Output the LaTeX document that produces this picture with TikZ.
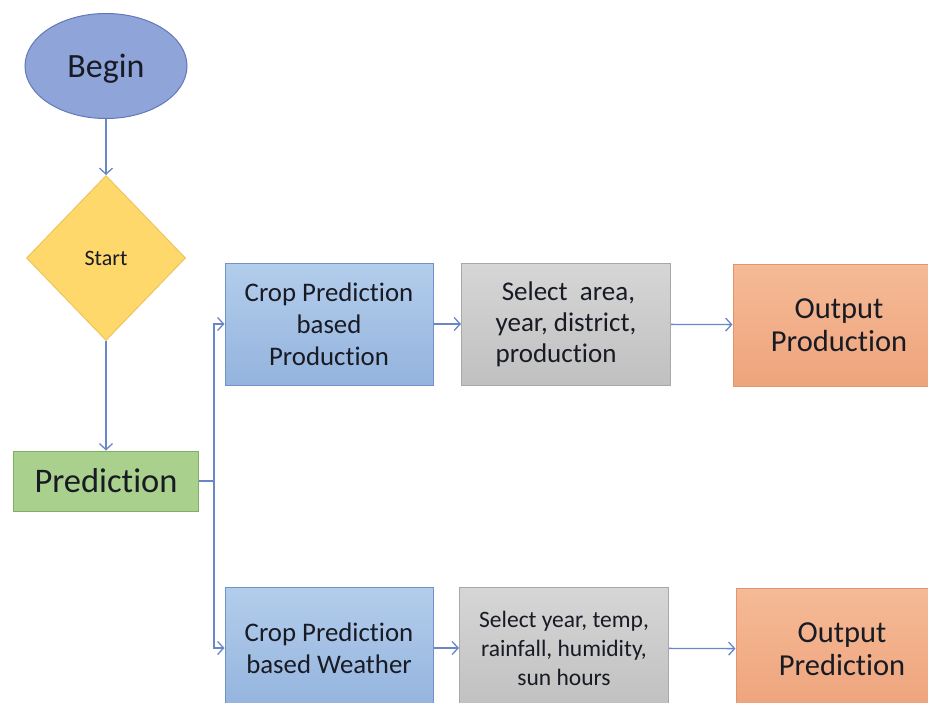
\documentclass[tikz,border=0pt]{standalone}
\usepackage{fontspec}
\setmainfont{Carlito}[Ligatures=CommonOff]
\usepackage{tikz}
\usetikzlibrary{positioning, arrows.meta, shapes.geometric}
\definecolor{BeginBlue}{RGB}{143,164,216}
\definecolor{BeginEdge}{RGB}{98,120,184}
\definecolor{StartGold}{RGB}{255,216,108}
\definecolor{StartEdge}{RGB}{238,196,92}
\definecolor{PredGreen}{RGB}{170,208,142}
\definecolor{PredEdge}{RGB}{128,174,100}
\definecolor{CropBlue}{RGB}{160,192,230}
\definecolor{CropBlueDk}{RGB}{148,180,222}
\definecolor{CropEdge}{RGB}{112,146,200}
\definecolor{SelGrey}{RGB}{214,214,214}
\definecolor{SelGreyDk}{RGB}{192,192,192}
\definecolor{SelEdge}{RGB}{168,168,168}
\definecolor{OutOrange}{RGB}{245,186,150}
\definecolor{OutOrangeDk}{RGB}{238,164,124}
\definecolor{OutEdge}{RGB}{228,148,108}
\definecolor{ArrBlue}{RGB}{104,134,200}
\definecolor{InkDark}{RGB}{24,26,36}
\tikzset{
  fbox/.style={line width=1pt, inner sep=2pt, align=center, text=InkDark},
  beginnode/.style={fbox, ellipse, draw=BeginEdge, fill=BeginBlue, minimum width=162pt,
    minimum height=105pt, inner sep=0pt, text depth=0pt, font=\fontsize{34}{37}\selectfont},
  startnode/.style={fbox, diamond, draw=StartEdge, fill=StartGold, minimum width=159pt,
    minimum height=165pt, inner sep=0pt, font=\fontsize{22}{26}\selectfont},
  prednode/.style={fbox, draw=PredEdge, fill=PredGreen, minimum width=185pt,
    minimum height=60pt, font=\fontsize{34.5}{37}\selectfont},
  cropbox/.style={fbox, draw=CropEdge, top color=CropBlue!80!white, bottom color=CropBlueDk,
    minimum width=208pt, minimum height=122pt, font=\fontsize{26.8}{32}\selectfont},
  selbox/.style={fbox, draw=SelEdge, top color=SelGrey, bottom color=SelGreyDk,
    minimum width=209pt, minimum height=122pt},
  outbox/.style={fbox, draw=OutEdge, top color=OutOrange, bottom color=OutOrangeDk,
    minimum width=212pt, minimum height=122pt, font=\fontsize{30.5}{33}\selectfont},
  arr/.style={-{Straight Barb[length=6pt, width=13pt]}, line width=1.3pt, ArrBlue},
}

\begin{document}
\begin{tikzpicture}[x=1pt, y=-1pt]
  \useasboundingbox (0,0) rectangle (928,702);
  \clip (0,0) rectangle (928,702);
  % left column
  \node[beginnode] (begin) at (106,66) {Begin};
  \node[startnode] (start) at (106,258) {Start};
  \node[prednode] (pred) at (106,481) {Prediction};
  % production row
  \node[cropbox] (cropP) at (329,324) {Crop Prediction\\based\\Production};
  \node[selbox, align=left, font=\fontsize{27}{31}\selectfont] (selP) at (566,324)
    {\ Select\ \ area,\\year, district,\\production};
  \node[outbox] (outP) at (839,325) {Output\\Production};
  % weather row
  \node[cropbox] (cropW) at (329,648) {Crop Prediction\\based Weather};
  \node[selbox, font=\fontsize{23.5}{29}\selectfont] (selW) at (564,648)
    {Select year, temp,\\rainfall, humidity,\\sun hours};
  \node[outbox] (outW) at (842,649) {Output\\Prediction};
  % connectors
  \draw[arr] (begin) -- (start);
  \draw[arr] (start) -- (pred);
  \draw[arr] (pred.east) -- ++(15,0) |- (cropP.west);
  \draw[arr] (pred.east) -- ++(15,0) |- (cropW.west);
  \draw[arr] (cropP) -- (selP);
  \draw[arr] (selP) -- (outP);
  \draw[arr] (cropW) -- (selW);
  \draw[arr] (selW) -- (outW);
\end{tikzpicture}
\end{document}
